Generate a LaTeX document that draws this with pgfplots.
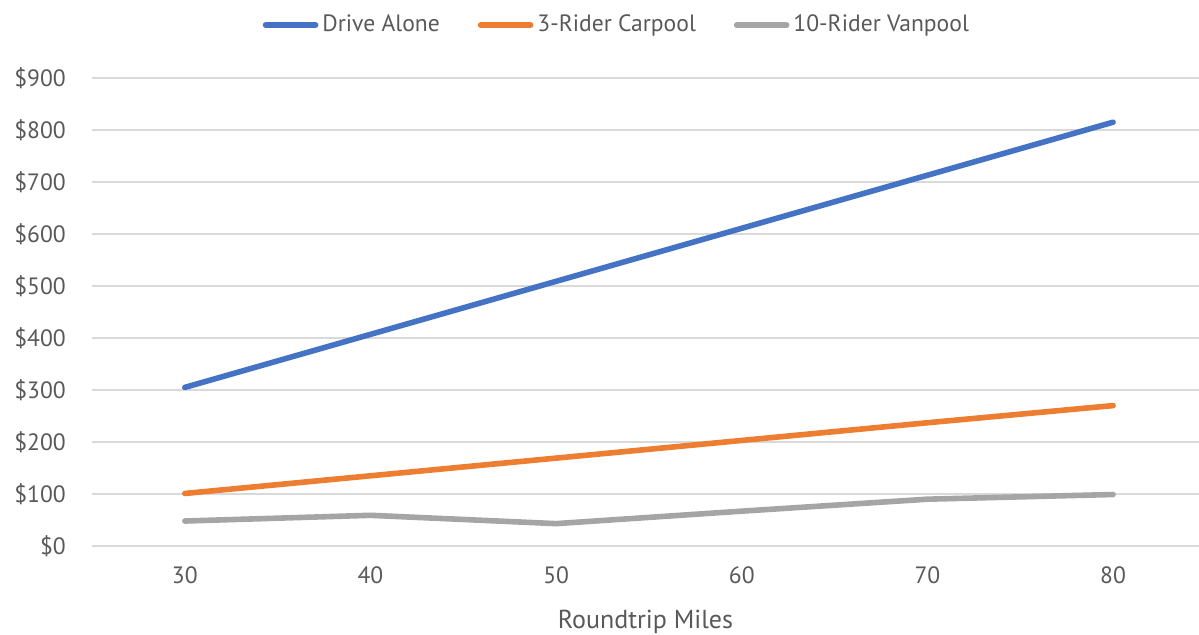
\documentclass[border=0pt]{standalone}
\usepackage{fontspec}
\setmainfont{PT Sans}
\usepackage{pgfplots}
\pgfplotsset{compat=1.18}

\definecolor{driveblue}{HTML}{4472C4}
\definecolor{carpoolorange}{HTML}{ED7D31}
\definecolor{vanpoolgray}{HTML}{A5A5A5}
\definecolor{gridgray}{HTML}{D9D9D9}
\definecolor{textgray}{HTML}{595959}

\begin{document}
\fontsize{11.8}{14}\selectfont
\begin{tikzpicture}
\useasboundingbox (-46pt,-44.5pt) rectangle (553.5pt,273pt);
\begin{axis}[
scale only axis,
width=553.5pt, height=234pt,
xmin=25, xmax=84.63,
ymin=0, ymax=900,
xtick={30,40,50,60,70,80},
ytick={0,100,200,300,400,500,600,700,800,900},
yticklabels={\$0,\$100,\$200,\$300,\$400,\$500,\$600,\$700,\$800,\$900},
/pgf/number format/assume math mode=true,
axis line style={draw=none},
major tick length=0pt,
ymajorgrids,
y grid style={gridgray, line width=1pt},
ticklabel style={text=textgray, font=\fontsize{11.8}{14}\selectfont},
yticklabel style={xshift=-9pt},
xticklabel style={yshift=-6pt},
xlabel={Roundtrip Miles},
xlabel style={text=textgray, font=\fontsize{13}{15}\selectfont, yshift=-5.5pt},
clip=false,
legend columns=3,
legend style={draw=none, fill=none, at={(0.475,1.113)}, anchor=center,
  font=\fontsize{11.8}{14}\selectfont, text=textgray,
  /tikz/every even column/.append style={column sep=17pt}},
legend image code/.code={\draw[#1, line cap=round] (0pt,0pt) -- (25pt,0pt);},
every axis plot/.append style={line width=2.8pt, line cap=round, line join=round},
]
\addplot[driveblue] coordinates {(30,305) (40,407) (50,509) (60,611) (70,713) (80,815)};
\addlegendentry{Drive Alone}
\addplot[carpoolorange] coordinates {(30,101) (40,135) (50,169) (60,203) (70,237) (80,270)};
\addlegendentry{3-Rider Carpool}
\addplot[vanpoolgray] coordinates {(30,48) (40,59) (50,43) (60,67) (70,90) (80,99)};
\addlegendentry{10-Rider Vanpool}
\end{axis}
\end{tikzpicture}
\end{document}
